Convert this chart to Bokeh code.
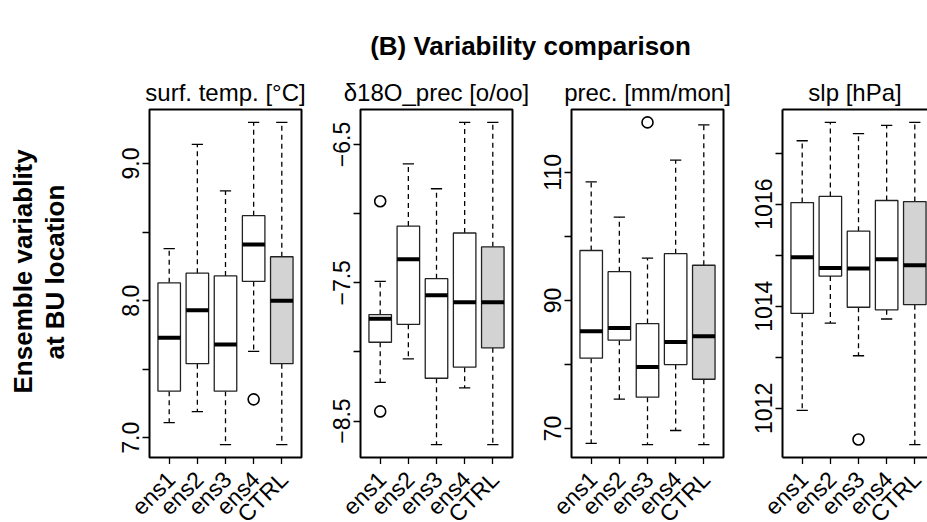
import numpy as np
from math import pi
from bokeh.plotting import figure
from bokeh.models import FixedTicker, Range1d, ColumnDataSource, LinearAxis, Title
from bokeh.core.properties import value
from bokeh.layouts import row, column
from bokeh.embed import file_html
from bokeh.resources import INLINE

# ---------------- data ----------------
categories = ["ens1", "ens2", "ens3", "ens4", "CTRL"]
panel_titles = ["surf. temp. [°C]", "δ18O_prec [o/oo]", "prec. [mm/mon]", "slp [hPa]"]
main_title = "(B) Variability comparison"
ylab_lines = ["Ensemble variablity", "at BU location"]

temp_low = [7.11, 7.19, 6.95, 7.63, 6.95]
temp_q1 = [7.34, 7.54, 7.34, 8.14, 7.54]
temp_med = [7.73, 7.93, 7.68, 8.41, 8.00]
temp_q3 = [8.13, 8.20, 8.18, 8.62, 8.32]
temp_high = [8.38, 9.14, 8.80, 9.30, 9.30]
temp_out_cat = ["ens4"]
temp_out_val = [7.28]
temp_major = [7.0, 8.0, 9.0]
temp_minor = [7.5, 8.5]
temp_labels = ["7.0", "8.0", "9.0"]

d18o_low = [-8.22, -8.05, -8.67, -8.26, -8.67]
d18o_q1 = [-7.93, -7.80, -8.19, -8.11, -7.97]
d18o_med = [-7.76, -7.33, -7.59, -7.64, -7.64]
d18o_q3 = [-7.73, -7.09, -7.47, -7.14, -7.24]
d18o_high = [-7.49, -6.64, -6.82, -6.34, -6.34]
d18o_out_cat = ["ens1", "ens1"]
d18o_out_val = [-6.91, -8.43]
d18o_major = [-8.5, -7.5, -6.5]
d18o_minor = [-8.0, -7.0]
d18o_labels = ["\u22128.5", "\u22127.5", "\u22126.5"]

prec_low = [67.7, 74.6, 67.5, 69.7, 67.5]
prec_q1 = [81.0, 83.8, 74.9, 80.0, 77.7]
prec_med = [85.2, 85.7, 79.6, 83.5, 84.4]
prec_q3 = [97.8, 94.5, 86.4, 97.3, 95.5]
prec_high = [108.5, 103.0, 96.6, 111.9, 117.4]
prec_out_cat = ["ens3"]
prec_out_val = [117.8]
prec_major = [70, 90, 110]
prec_minor = [80, 100]
prec_labels = ["70", "90", "110"]

slp_low = [1011.96, 1013.67, 1013.03, 1013.75, 1011.29]
slp_q1 = [1013.86, 1014.59, 1013.98, 1013.93, 1014.03]
slp_med = [1014.96, 1014.75, 1014.74, 1014.92, 1014.80]
slp_q3 = [1016.03, 1016.15, 1015.47, 1016.07, 1016.05]
slp_high = [1017.24, 1017.60, 1017.38, 1017.54, 1017.60]
slp_out_cat = ["ens3"]
slp_out_val = [1011.39]
slp_major = [1012, 1014, 1016]
slp_minor = [1013, 1015, 1017]
slp_labels = ["1012", "1014", "1016"]

box_fill = ["white", "white", "white", "white", "#d3d3d3"]

# ---------------- style / layout ----------------
FONT = "Liberation Sans"
HEADER_H = 66
TOP = 43
FRAME_H = 348
BOTTOM = 7
PANEL_H = TOP + FRAME_H + BOTTOM
STRIP_H = 522 - HEADER_H - PANEL_H
FRAME_W = 152
X_LO, X_HI = 0.3, 5.7
PX = (X_HI - X_LO) / FRAME_W   # data units per pixel along x
YLAB_W = 70


def make_panel(title, low, q1, med, q3, high, out_cat, out_val, major, minor, labels,
               left, right, frame_w, open_right=False, strip_left=None):
    xs = np.arange(1, len(categories) + 1, dtype=float)
    vals = list(low) + list(high) + list(out_val)
    lo, hi = min(vals), max(vals)
    pad = 0.04 * (hi - lo)
    x_end = X_LO + frame_w * PX
    p = figure(width=left + frame_w + right, height=PANEL_H,
               x_range=Range1d(X_LO, x_end), y_range=Range1d(lo - pad, hi + pad),
               output_backend="svg", toolbar_location=None,
               min_border_left=left, min_border_right=right,
               min_border_top=TOP, min_border_bottom=BOTTOM,
               background_fill_color="white", border_fill_color="white")
    p.grid.visible = False
    p.title.text = title
    p.title.align = "center"
    p.title.text_font = FONT
    p.title.text_font_size = "24px"
    p.title.text_font_style = "normal"
    p.title.text_color = "black"
    p.title.standoff = 7

    if open_right:
        p.outline_line_color = None
    else:
        p.outline_line_color = "black"
        p.outline_line_width = 2

    # x axis: ticks only (category names are drawn in the strip below)
    xa = p.xaxis[0]
    xa.ticker = FixedTicker(ticks=list(xs))
    xa.major_label_overrides = {float(x): "" for x in xs}
    xa.major_label_standoff = -3
    xa.major_label_text_font_size = "2px"
    xa.major_tick_out = 7
    xa.major_tick_in = 0
    xa.major_tick_line_width = 1.3
    xa.major_tick_line_color = "black"
    xa.minor_tick_line_color = None
    xa.axis_line_color = "black" if open_right else None
    xa.axis_line_width = 2

    ya = p.yaxis[0]
    ya.ticker = FixedTicker(ticks=list(major), minor_ticks=list(minor))
    ya.major_label_overrides = {float(m): lab for m, lab in zip(major, labels)}
    ya.major_label_orientation = "vertical"
    ya.major_label_text_font = FONT
    ya.major_label_text_font_size = "23px"
    ya.major_label_text_color = "black"
    ya.major_label_standoff = 3
    ya.major_tick_out = 7
    ya.major_tick_in = 0
    ya.minor_tick_out = 7
    ya.minor_tick_in = 0
    ya.major_tick_line_width = 1.3
    ya.minor_tick_line_width = 1.3
    ya.major_tick_line_color = "black"
    ya.minor_tick_line_color = "black"
    ya.axis_line_color = "black" if open_right else None
    ya.axis_line_width = 2

    if open_right:
        top_axis = LinearAxis(ticker=FixedTicker(ticks=[]), major_label_text_font_size="2px",
                              major_tick_out=0, minor_tick_out=0, major_label_standoff=0,
                              axis_line_width=2, axis_line_color="black")
        p.add_layout(top_axis, "above")

    half = 0.4
    stap = 0.2
    src = ColumnDataSource(dict(x=xs, low=low, q1=q1, med=med, q3=q3, high=high,
                                fill=box_fill, xl=xs - half, xr=xs + half,
                                sl=xs - stap, sr=xs + stap))
    # whiskers
    p.segment(x0="x", y0="q3", x1="x", y1="high", source=src, line_color="black",
              line_width=1.3, line_dash="5 4")
    p.segment(x0="x", y0="q1", x1="x", y1="low", source=src, line_color="black",
              line_width=1.3, line_dash="5 4")
    # staples
    p.segment(x0="sl", y0="high", x1="sr", y1="high", source=src, line_color="black", line_width=1.3)
    p.segment(x0="sl", y0="low", x1="sr", y1="low", source=src, line_color="black", line_width=1.3)
    # boxes
    p.vbar(x="x", width=2 * half, bottom="q1", top="q3", source=src, fill_color="fill",
           line_color="#222222", line_width=1.3)
    # medians
    p.segment(x0="xl", y0="med", x1="xr", y1="med", source=src, line_color="black", line_width=4)
    # outliers
    ox = [categories.index(c) + 1 for c in out_cat]
    p.scatter(ox, out_val, size=11, marker="circle", fill_color=None, line_color="black",
              line_width=1.6)

    # strip below the panel carrying the rotated category names, same x scale
    sl = left if strip_left is None else strip_left
    s = figure(title=None, width=sl + frame_w + right, height=STRIP_H,
               x_range=Range1d(X_LO - sl * PX, x_end + right * PX), y_range=Range1d(0, 1),
               output_backend="svg", toolbar_location=None,
               x_axis_location=None, y_axis_location=None,
               min_border_left=0, min_border_right=0, min_border_top=0, min_border_bottom=0,
               outline_line_color=None, background_fill_color="white",
               border_fill_color="white")
    s.grid.visible = False
    s.text(x=xs, y=[1] * len(xs), text=categories, angle=pi / 4,
           text_align="right", text_baseline="middle", y_offset=11, x_offset=2,
           text_font=value(FONT), text_font_size=value("23px"), text_color="black")
    return p, s


p1, s1 = make_panel(panel_titles[0], temp_low, temp_q1, temp_med, temp_q3, temp_high,
                    temp_out_cat, temp_out_val, temp_major, temp_minor, temp_labels,
                    149 - YLAB_W, 19, FRAME_W, strip_left=149)
p2, s2 = make_panel(panel_titles[1], d18o_low, d18o_q1, d18o_med, d18o_q3, d18o_high,
                    d18o_out_cat, d18o_out_val, d18o_major, d18o_minor, d18o_labels,
                    40, 19, FRAME_W)
p3, s3 = make_panel(panel_titles[2], prec_low, prec_q1, prec_med, prec_q3, prec_high,
                    prec_out_cat, prec_out_val, prec_major, prec_minor, prec_labels,
                    40, 19, FRAME_W)
p4, s4 = make_panel(panel_titles[3], slp_low, slp_q1, slp_med, slp_q3, slp_high,
                    slp_out_cat, slp_out_val, slp_major, slp_minor, slp_labels,
                    40, 0, 145, open_right=True)

# narrow figure on the left holding the two-line bold y label
ylab_fig = figure(title=None, width=YLAB_W, height=PANEL_H, output_backend="svg",
                  toolbar_location=None, x_axis_location=None, y_axis_location=None,
                  min_border_left=YLAB_W - 1, min_border_right=0,
                  min_border_top=TOP, min_border_bottom=BOTTOM,
                  outline_line_color=None, background_fill_color="white",
                  border_fill_color="white")
ylab_fig.grid.visible = False
for text, off in [(ylab_lines[1], 98), (ylab_lines[0], 64)]:
    ylab_fig.add_layout(Title(text=text, align="left", offset=off, standoff=0,
                              vertical_align="bottom", text_font=FONT,
                              text_font_size="26px", text_font_style="bold",
                              text_color="black"), "left")

header = figure(width=927, height=HEADER_H, output_backend="svg", toolbar_location=None,
                x_axis_location=None, y_axis_location=None,
                min_border_left=133, min_border_right=0, min_border_top=HEADER_H - 4,
                min_border_bottom=0, outline_line_color=None,
                background_fill_color="white", border_fill_color="white")
header.grid.visible = False
header.title.text = main_title
header.title.align = "center"
header.title.text_font = FONT
header.title.text_font_size = "26px"
header.title.text_font_style = "bold"
header.title.text_color = "black"
header.title.standoff = 4

layout = column(header,
                row(ylab_fig, p1, p2, p3, p4, spacing=0),
                row(s1, s2, s3, s4, spacing=0),
                spacing=0)

open("out.html", "w").write(file_html(layout, INLINE))
